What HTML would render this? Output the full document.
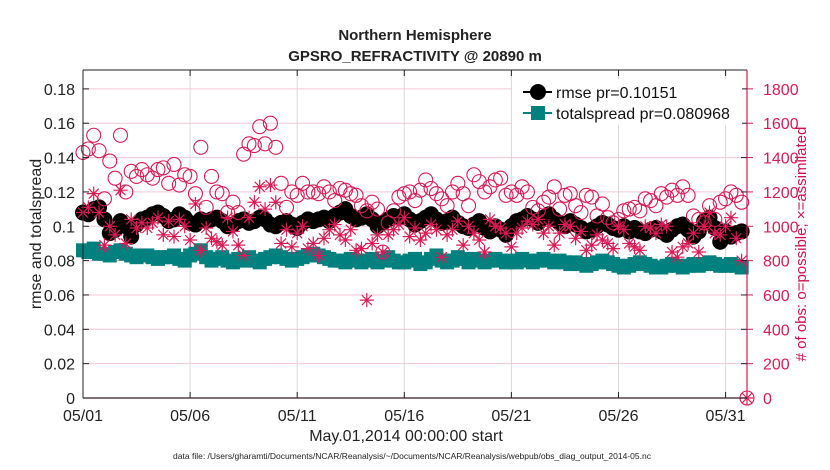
<!DOCTYPE html>
<html><head><meta charset="utf-8"><style>
body{margin:0;background:#fff}
svg{display:block;font-family:"Liberation Sans",sans-serif}
</style></head><body>
<svg id="c" width="830" height="470">
<text x="415" y="40" text-anchor="middle" font-size="15" font-weight="bold" fill="#222">Northern Hemisphere</text>
<text x="415" y="61" text-anchor="middle" font-size="15" font-weight="bold" fill="#222">GPSRO_REFRACTIVITY @ 20890 m</text>
<g id="grid"></g>
<g id="marks"></g>
<g id="axes"></g>
<text transform="translate(41,234) rotate(-90)" text-anchor="middle" font-size="16" fill="#222">rmse and totalspread</text>
<text transform="translate(806,244) rotate(-90)" text-anchor="middle" font-size="15" fill="#d0104c"># of obs: o=possible; ×=assimilated</text>
<text x="406" y="441" text-anchor="middle" font-size="16" fill="#222">May.01,2014 00:00:00 start</text>
<text x="412" y="459" text-anchor="middle" font-size="8.5" fill="#222">data file: /Users/gharamti/Documents/NCAR/Reanalysis/~/Documents/NCAR/Reanalysis/webpub/obs_diag_output_2014-05.nc</text>
<g>
<rect x="512" y="79" width="230" height="46" fill="#fff"/>
<g>
<line x1="523" y1="92" x2="552" y2="92" stroke="#000" stroke-width="2"/><circle cx="538" cy="92" r="8" fill="#000"/>
<text x="556" y="98" font-size="16" fill="#111">rmse pr=0.10151</text></g>
<g>
<line x1="523" y1="113" x2="552" y2="113" stroke="#00807f" stroke-width="2"/><rect x="531" y="106" width="14" height="14" fill="#00807f"/>
<text x="556" y="119" font-size="16" fill="#111">totalspread pr=0.080968</text></g>
</g>
</svg>
<script>
const rmse=[.108,.107,.110,.111,.104,.096,.098,.103,.100,.094,.101,.104,.105,.107,.108,.106,.103,.104,.107,.105,.102,.101,.104,.103,.104,.105,.103,.100,.101,.103,.104,.102,.103,.105,.104,.101,.100,.102,.103,.101,.099,.102,.104,.103,.104,.105,.103,.106,.108,.110,.106,.104,.105,.107,.104,.100,.102,.104,.106,.105,.107,.104,.101,.103,.105,.107,.104,.102,.103,.105,.102,.100,.099,.101,.103,.099,.097,.100,.098,.095,.100,.103,.104,.106,.104,.102,.105,.107,.104,.102,.100,.103,.101,.099,.097,.098,.100,.102,.101,.099,.098,.100,.097,.099,.097,.096,.098,.099,.097,.095,.098,.100,.101,.098,.094,.097,.103,.105,.099,.091,.097,.094,.096,.097,null];
const spread=[.086,.085,.087,.084,.084,.083,.085,.086,.084,.083,.082,.083,.083,.082,.081,.082,.082,.083,.081,.080,.083,.084,.086,.082,.080,.081,.082,.080,.079,.081,.080,.082,.080,.079,.081,.082,.083,.082,.081,.080,.081,.082,.083,.084,.083,.082,.081,.080,.080,.079,.081,.080,.079,.080,.081,.079,.080,.082,.080,.079,.079,.080,.081,.078,.079,.081,.083,.080,.079,.080,.082,.081,.079,.081,.080,.079,.080,.081,.080,.079,.080,.079,.081,.080,.079,.080,.081,.080,.079,.080,.079,.078,.079,.078,.077,.078,.079,.080,.079,.078,.077,.076,.077,.078,.079,.078,.077,.076,.076,.077,.078,.077,.076,.077,.078,.077,.078,.079,.078,.077,.077,.078,.077,.076,null];
const possible=[1430,1450,1530,1440,1160,1380,1280,1530,1200,1320,1290,1330,1300,1280,1330,1340,1250,1360,1240,1300,1290,1190,1460,1110,1290,1200,1190,1080,1140,1080,1420,1480,1470,1580,1480,1600,1460,1250,1110,1200,1180,1250,1200,1200,1190,1230,1200,1150,1220,1210,1190,1180,1120,1090,1140,1100,850,1020,1090,1170,1190,1200,1150,1210,1270,1220,1190,1160,1120,1200,1250,1190,1120,1300,1260,1200,1230,1270,1280,1180,1200,1180,1230,1200,1110,1090,1140,1170,1230,1100,1180,1190,1120,1080,1180,1170,1060,1130,1050,1020,1040,1090,1100,1110,1090,1160,1150,1120,1190,1170,1210,1180,1230,1180,1060,1040,1020,1120,1040,1140,1160,1200,1180,1140,0];
const assimilated=[1080,1110,1190,1080,890,1000,950,1210,900,1040,990,1020,990,1020,1050,950,1030,940,1040,1000,920,1130,860,990,930,910,890,1050,970,890,830,1050,1140,1230,1100,1240,1140,900,980,880,960,1000,870,900,830,930,980,1010,950,920,980,860,870,570,900,950,850,950,980,1010,1050,940,990,920,960,1010,980,820,950,980,1030,890,1000,960,920,850,1040,1000,990,960,880,960,990,1030,1010,1040,960,1000,890,960,1010,1000,930,970,860,890,950,920,900,870,1000,980,900,880,860,1000,990,960,1010,1000,850,820,880,900,960,850,1000,1080,960,950,1000,1050,930,800,0];
const xTickLabels=["05/01","05/06","05/11","05/16","05/21","05/26","05/31"];
const xTickDays=[0,5,10,15,20,25,30];
const yTicks=[0,0.02,0.04,0.06,0.08,0.1,0.12,0.14,0.16,0.18];
const yTickLabels=["0","0.02","0.04","0.06","0.08","0.1","0.12","0.14","0.16","0.18"];
const rTicks=[0,200,400,600,800,1000,1200,1400,1600,1800];

const L=83,R=747,T=70,B=398,XMAX=31,YMAX=0.191,RMAX=1910;
const NS="http://www.w3.org/2000/svg";
const X=d=>L+d/XMAX*(R-L), Y=v=>B-v/YMAX*(B-T), YR=v=>B-v/RMAX*(B-T);
function mk(p,tag,a){const e=document.createElementNS(NS,tag);for(const k in a)e.setAttribute(k,a[k]);p.appendChild(e);return e;}
const grid=document.getElementById('grid'),marks=document.getElementById('marks'),axes=document.getElementById('axes');
yTicks.forEach(v=>{if(v>0){const g=mk(grid,'line',{x1:L,x2:R,y1:Y(v),y2:Y(v),stroke:'#f3c6d6','stroke-width':1});

}});
xTickDays.forEach(d=>{if(d>0){const g=mk(grid,'line',{x1:X(d),x2:X(d),y1:T,y2:B,stroke:'#d8d8d8','stroke-width':1});

}});
const t=i=>i/4;
let pts=rmse.map((v,i)=>v==null?null:X(t(i))+','+Y(v)).filter(p=>p);
let pl=mk(marks,'polyline',{points:pts.join(' '),fill:'none',stroke:'#000','stroke-width':2});


rmse.forEach((v,i)=>{if(v==null)return;const c=mk(marks,'circle',{cx:X(t(i)),cy:Y(v),r:8,fill:'#000'});

});
pts=spread.map((v,i)=>v==null?null:X(t(i))+','+Y(v)).filter(p=>p);
pl=mk(marks,'polyline',{points:pts.join(' '),fill:'none',stroke:'#00807f','stroke-width':2});


spread.forEach((v,i)=>{if(v==null)return;const c=mk(marks,'rect',{x:X(t(i))-7,y:Y(v)-7,width:14,height:14,fill:'#00807f'});

});
possible.forEach((v,i)=>{const c=mk(marks,'circle',{cx:X(t(i)),cy:YR(v),r:7,fill:'none',stroke:'#d81b55','stroke-width':1.1});

});
assimilated.forEach((v,i)=>{const x=X(t(i)),y=YR(v),s=7,d=5;
const p=mk(marks,'path',{d:`M${x-s},${y}H${x+s}M${x},${y-s}V${y+s}M${x-d},${y-d}L${x+d},${y+d}M${x-d},${y+d}L${x+d},${y-d}`,stroke:'#d81b55','stroke-width':1.2,fill:'none'});

});
let a=mk(axes,'line',{x1:L,x2:L,y1:T,y2:B,stroke:'#222','stroke-width':1});


a=mk(axes,'line',{x1:L,x2:R,y1:T,y2:T,stroke:'#222','stroke-width':1});


a=mk(axes,'line',{x1:L,x2:R,y1:B,y2:B,stroke:'#3a1a22','stroke-width':1.2});


a=mk(axes,'line',{x1:R,x2:R,y1:T,y2:B,stroke:'#d81b55','stroke-width':1.2});


yTicks.forEach((v,i)=>{mk(axes,'line',{x1:L,x2:L+6,y1:Y(v),y2:Y(v),stroke:'#222'});mk(axes,'line',{x1:R-6,x2:R,y1:Y(v),y2:Y(v),stroke:'#222'});
const tx=mk(axes,'text',{x:L-8,y:Y(v)+6,'text-anchor':'end','font-size':16,fill:'#222'});tx.textContent=yTickLabels[i];

});
rTicks.forEach(v=>{mk(axes,'line',{x1:R,x2:R+6,y1:YR(v),y2:YR(v),stroke:'#d81b55'});
const tx=mk(axes,'text',{x:R+16,y:YR(v)+6,'font-size':16,fill:'#d81b55'});tx.textContent=v;

});
xTickDays.forEach((d,i)=>{mk(axes,'line',{x1:X(d),x2:X(d),y1:B-6,y2:B,stroke:'#222'});mk(axes,'line',{x1:X(d),x2:X(d),y1:T,y2:T+6,stroke:'#222'});
const tx=mk(axes,'text',{x:X(d),y:B+23,'text-anchor':'middle','font-size':16,fill:'#222'});tx.textContent=xTickLabels[i];

});
</script>
</body></html>
